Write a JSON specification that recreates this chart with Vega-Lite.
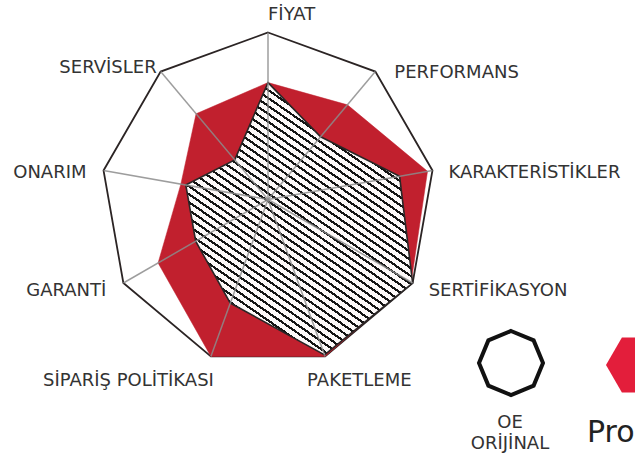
{
  "$schema": "https://vega.github.io/schema/vega-lite/v6.json",
  "width": 635,
  "height": 458,
  "padding": 0,
  "autosize": {"type": "none"},
  "background": "white",
  "config": {"view": {"stroke": null}},
  "datasets": {
    "radar": [
      {"axis": "FİYAT", "i": 0, "oe": 0.70, "pro": 0.70},
      {"axis": "PERFORMANS", "i": 1, "oe": 0.49, "pro": 0.74},
      {"axis": "KARAKTERİSTİKLER", "i": 2, "oe": 0.80, "pro": 0.97},
      {"axis": "SERTİFİKASYON", "i": 3, "oe": 1.0, "pro": 0.99},
      {"axis": "PAKETLEME", "i": 4, "oe": 0.99, "pro": 1.0},
      {"axis": "SİPARİŞ POLİTİKASI", "i": 5, "oe": 0.66, "pro": 1.0},
      {"axis": "GARANTİ", "i": 6, "oe": 0.50, "pro": 0.76},
      {"axis": "ONARIM", "i": 7, "oe": 0.50, "pro": 0.53},
      {"axis": "SERVİSLER", "i": 8, "oe": 0.31, "pro": 0.67}
    ],
    "legend": [
      {"series": "OE ORİJİNAL", "label": "OE\nORİJİNAL"},
      {"series": "Pro", "label": "Pro"}
    ]
  },
  "layer": [
    {
      "data": {"name": "radar"},
      "transform": [
        {"calculate": "datum.i * 2 * PI / 9", "as": "a"},
        {"calculate": "sin(datum.a)", "as": "px"},
        {"calculate": "cos(datum.a)", "as": "py"}
      ],
      "mark": {"type": "line", "interpolate": "linear-closed", "stroke": "#2b2424", "strokeWidth": 1.8},
      "encoding": {
        "x": {"field": "px", "type": "quantitative", "scale": {"domain": [-1.6048, 2.1976], "nice": false, "zero": false}, "axis": null},
        "y": {"field": "py", "type": "quantitative", "scale": {"domain": [-1.5479, 1.1946], "nice": false, "zero": false}, "axis": null},
        "order": {"field": "i", "type": "quantitative"}
      }
    },
    {
      "data": {"name": "radar"},
      "transform": [
        {"calculate": "datum.i * 2 * PI / 9", "as": "a"},
        {"calculate": "datum.pro * sin(datum.a)", "as": "px"},
        {"calculate": "datum.pro * cos(datum.a)", "as": "py"}
      ],
      "mark": {"type": "line", "interpolate": "linear-closed", "stroke": "#c1202e", "strokeWidth": 0.5, "fill": "#c1202e"},
      "encoding": {
        "x": {"field": "px", "type": "quantitative", "scale": {"domain": [-1.6048, 2.1976], "nice": false, "zero": false}, "axis": null},
        "y": {"field": "py", "type": "quantitative", "scale": {"domain": [-1.5479, 1.1946], "nice": false, "zero": false}, "axis": null},
        "order": {"field": "i", "type": "quantitative"}
      }
    },
    {
      "data": {"name": "radar"},
      "transform": [
        {"calculate": "datum.i * 2 * PI / 9", "as": "a"},
        {"calculate": "datum.oe * sin(datum.a)", "as": "px"},
        {"calculate": "datum.oe * cos(datum.a)", "as": "py"}
      ],
      "mark": {
        "type": "line",
        "interpolate": "linear-closed",
        "stroke": "#2a2626",
        "strokeWidth": 1.6,
        "fill": {
          "gradient": "linear",
          "x1": 0, "y1": 1, "x2": 0.6816, "y2": -0.1835,
          "stops": [
            {"offset": 0, "color": "#fdf9f9"},
            {"offset": 0.0060, "color": "#fdf9f9"}, {"offset": 0.0060, "color": "#141414"}, {"offset": 0.0122, "color": "#141414"}, {"offset": 0.0122, "color": "#fdf9f9"},
            {"offset": 0.0245, "color": "#fdf9f9"}, {"offset": 0.0245, "color": "#141414"}, {"offset": 0.0307, "color": "#141414"}, {"offset": 0.0307, "color": "#fdf9f9"},
            {"offset": 0.0430, "color": "#fdf9f9"}, {"offset": 0.0430, "color": "#141414"}, {"offset": 0.0492, "color": "#141414"}, {"offset": 0.0492, "color": "#fdf9f9"},
            {"offset": 0.0616, "color": "#fdf9f9"}, {"offset": 0.0616, "color": "#141414"}, {"offset": 0.0678, "color": "#141414"}, {"offset": 0.0678, "color": "#fdf9f9"},
            {"offset": 0.0801, "color": "#fdf9f9"}, {"offset": 0.0801, "color": "#141414"}, {"offset": 0.0863, "color": "#141414"}, {"offset": 0.0863, "color": "#fdf9f9"},
            {"offset": 0.0986, "color": "#fdf9f9"}, {"offset": 0.0986, "color": "#141414"}, {"offset": 0.1048, "color": "#141414"}, {"offset": 0.1048, "color": "#fdf9f9"},
            {"offset": 0.1171, "color": "#fdf9f9"}, {"offset": 0.1171, "color": "#141414"}, {"offset": 0.1233, "color": "#141414"}, {"offset": 0.1233, "color": "#fdf9f9"},
            {"offset": 0.1356, "color": "#fdf9f9"}, {"offset": 0.1356, "color": "#141414"}, {"offset": 0.1418, "color": "#141414"}, {"offset": 0.1418, "color": "#fdf9f9"},
            {"offset": 0.1541, "color": "#fdf9f9"}, {"offset": 0.1541, "color": "#141414"}, {"offset": 0.1603, "color": "#141414"}, {"offset": 0.1603, "color": "#fdf9f9"},
            {"offset": 0.1727, "color": "#fdf9f9"}, {"offset": 0.1727, "color": "#141414"}, {"offset": 0.1789, "color": "#141414"}, {"offset": 0.1789, "color": "#fdf9f9"},
            {"offset": 0.1912, "color": "#fdf9f9"}, {"offset": 0.1912, "color": "#141414"}, {"offset": 0.1974, "color": "#141414"}, {"offset": 0.1974, "color": "#fdf9f9"},
            {"offset": 0.2097, "color": "#fdf9f9"}, {"offset": 0.2097, "color": "#141414"}, {"offset": 0.2159, "color": "#141414"}, {"offset": 0.2159, "color": "#fdf9f9"},
            {"offset": 0.2282, "color": "#fdf9f9"}, {"offset": 0.2282, "color": "#141414"}, {"offset": 0.2344, "color": "#141414"}, {"offset": 0.2344, "color": "#fdf9f9"},
            {"offset": 0.2467, "color": "#fdf9f9"}, {"offset": 0.2467, "color": "#141414"}, {"offset": 0.2529, "color": "#141414"}, {"offset": 0.2529, "color": "#fdf9f9"},
            {"offset": 0.2653, "color": "#fdf9f9"}, {"offset": 0.2653, "color": "#141414"}, {"offset": 0.2715, "color": "#141414"}, {"offset": 0.2715, "color": "#fdf9f9"},
            {"offset": 0.2838, "color": "#fdf9f9"}, {"offset": 0.2838, "color": "#141414"}, {"offset": 0.2900, "color": "#141414"}, {"offset": 0.2900, "color": "#fdf9f9"},
            {"offset": 0.3023, "color": "#fdf9f9"}, {"offset": 0.3023, "color": "#141414"}, {"offset": 0.3085, "color": "#141414"}, {"offset": 0.3085, "color": "#fdf9f9"},
            {"offset": 0.3208, "color": "#fdf9f9"}, {"offset": 0.3208, "color": "#141414"}, {"offset": 0.3270, "color": "#141414"}, {"offset": 0.3270, "color": "#fdf9f9"},
            {"offset": 0.3393, "color": "#fdf9f9"}, {"offset": 0.3393, "color": "#141414"}, {"offset": 0.3455, "color": "#141414"}, {"offset": 0.3455, "color": "#fdf9f9"},
            {"offset": 0.3579, "color": "#fdf9f9"}, {"offset": 0.3579, "color": "#141414"}, {"offset": 0.3641, "color": "#141414"}, {"offset": 0.3641, "color": "#fdf9f9"},
            {"offset": 0.3764, "color": "#fdf9f9"}, {"offset": 0.3764, "color": "#141414"}, {"offset": 0.3826, "color": "#141414"}, {"offset": 0.3826, "color": "#fdf9f9"},
            {"offset": 0.3949, "color": "#fdf9f9"}, {"offset": 0.3949, "color": "#141414"}, {"offset": 0.4011, "color": "#141414"}, {"offset": 0.4011, "color": "#fdf9f9"},
            {"offset": 0.4134, "color": "#fdf9f9"}, {"offset": 0.4134, "color": "#141414"}, {"offset": 0.4196, "color": "#141414"}, {"offset": 0.4196, "color": "#fdf9f9"},
            {"offset": 0.4319, "color": "#fdf9f9"}, {"offset": 0.4319, "color": "#141414"}, {"offset": 0.4381, "color": "#141414"}, {"offset": 0.4381, "color": "#fdf9f9"},
            {"offset": 0.4504, "color": "#fdf9f9"}, {"offset": 0.4504, "color": "#141414"}, {"offset": 0.4566, "color": "#141414"}, {"offset": 0.4566, "color": "#fdf9f9"},
            {"offset": 0.4690, "color": "#fdf9f9"}, {"offset": 0.4690, "color": "#141414"}, {"offset": 0.4752, "color": "#141414"}, {"offset": 0.4752, "color": "#fdf9f9"},
            {"offset": 0.4875, "color": "#fdf9f9"}, {"offset": 0.4875, "color": "#141414"}, {"offset": 0.4937, "color": "#141414"}, {"offset": 0.4937, "color": "#fdf9f9"},
            {"offset": 0.5060, "color": "#fdf9f9"}, {"offset": 0.5060, "color": "#141414"}, {"offset": 0.5122, "color": "#141414"}, {"offset": 0.5122, "color": "#fdf9f9"},
            {"offset": 0.5245, "color": "#fdf9f9"}, {"offset": 0.5245, "color": "#141414"}, {"offset": 0.5307, "color": "#141414"}, {"offset": 0.5307, "color": "#fdf9f9"},
            {"offset": 0.5430, "color": "#fdf9f9"}, {"offset": 0.5430, "color": "#141414"}, {"offset": 0.5492, "color": "#141414"}, {"offset": 0.5492, "color": "#fdf9f9"},
            {"offset": 0.5616, "color": "#fdf9f9"}, {"offset": 0.5616, "color": "#141414"}, {"offset": 0.5678, "color": "#141414"}, {"offset": 0.5678, "color": "#fdf9f9"},
            {"offset": 0.5801, "color": "#fdf9f9"}, {"offset": 0.5801, "color": "#141414"}, {"offset": 0.5863, "color": "#141414"}, {"offset": 0.5863, "color": "#fdf9f9"},
            {"offset": 0.5986, "color": "#fdf9f9"}, {"offset": 0.5986, "color": "#141414"}, {"offset": 0.6048, "color": "#141414"}, {"offset": 0.6048, "color": "#fdf9f9"},
            {"offset": 0.6171, "color": "#fdf9f9"}, {"offset": 0.6171, "color": "#141414"}, {"offset": 0.6233, "color": "#141414"}, {"offset": 0.6233, "color": "#fdf9f9"},
            {"offset": 0.6356, "color": "#fdf9f9"}, {"offset": 0.6356, "color": "#141414"}, {"offset": 0.6418, "color": "#141414"}, {"offset": 0.6418, "color": "#fdf9f9"},
            {"offset": 0.6541, "color": "#fdf9f9"}, {"offset": 0.6541, "color": "#141414"}, {"offset": 0.6603, "color": "#141414"}, {"offset": 0.6603, "color": "#fdf9f9"},
            {"offset": 0.6727, "color": "#fdf9f9"}, {"offset": 0.6727, "color": "#141414"}, {"offset": 0.6789, "color": "#141414"}, {"offset": 0.6789, "color": "#fdf9f9"},
            {"offset": 0.6912, "color": "#fdf9f9"}, {"offset": 0.6912, "color": "#141414"}, {"offset": 0.6974, "color": "#141414"}, {"offset": 0.6974, "color": "#fdf9f9"},
            {"offset": 0.7097, "color": "#fdf9f9"}, {"offset": 0.7097, "color": "#141414"}, {"offset": 0.7159, "color": "#141414"}, {"offset": 0.7159, "color": "#fdf9f9"},
            {"offset": 0.7282, "color": "#fdf9f9"}, {"offset": 0.7282, "color": "#141414"}, {"offset": 0.7344, "color": "#141414"}, {"offset": 0.7344, "color": "#fdf9f9"},
            {"offset": 0.7467, "color": "#fdf9f9"}, {"offset": 0.7467, "color": "#141414"}, {"offset": 0.7529, "color": "#141414"}, {"offset": 0.7529, "color": "#fdf9f9"},
            {"offset": 0.7653, "color": "#fdf9f9"}, {"offset": 0.7653, "color": "#141414"}, {"offset": 0.7715, "color": "#141414"}, {"offset": 0.7715, "color": "#fdf9f9"},
            {"offset": 0.7838, "color": "#fdf9f9"}, {"offset": 0.7838, "color": "#141414"}, {"offset": 0.7900, "color": "#141414"}, {"offset": 0.7900, "color": "#fdf9f9"},
            {"offset": 0.8023, "color": "#fdf9f9"}, {"offset": 0.8023, "color": "#141414"}, {"offset": 0.8085, "color": "#141414"}, {"offset": 0.8085, "color": "#fdf9f9"},
            {"offset": 0.8208, "color": "#fdf9f9"}, {"offset": 0.8208, "color": "#141414"}, {"offset": 0.8270, "color": "#141414"}, {"offset": 0.8270, "color": "#fdf9f9"},
            {"offset": 0.8393, "color": "#fdf9f9"}, {"offset": 0.8393, "color": "#141414"}, {"offset": 0.8455, "color": "#141414"}, {"offset": 0.8455, "color": "#fdf9f9"},
            {"offset": 0.8579, "color": "#fdf9f9"}, {"offset": 0.8579, "color": "#141414"}, {"offset": 0.8641, "color": "#141414"}, {"offset": 0.8641, "color": "#fdf9f9"},
            {"offset": 0.8764, "color": "#fdf9f9"}, {"offset": 0.8764, "color": "#141414"}, {"offset": 0.8826, "color": "#141414"}, {"offset": 0.8826, "color": "#fdf9f9"},
            {"offset": 0.8949, "color": "#fdf9f9"}, {"offset": 0.8949, "color": "#141414"}, {"offset": 0.9011, "color": "#141414"}, {"offset": 0.9011, "color": "#fdf9f9"},
            {"offset": 0.9134, "color": "#fdf9f9"}, {"offset": 0.9134, "color": "#141414"}, {"offset": 0.9196, "color": "#141414"}, {"offset": 0.9196, "color": "#fdf9f9"},
            {"offset": 0.9319, "color": "#fdf9f9"}, {"offset": 0.9319, "color": "#141414"}, {"offset": 0.9381, "color": "#141414"}, {"offset": 0.9381, "color": "#fdf9f9"},
            {"offset": 0.9504, "color": "#fdf9f9"}, {"offset": 0.9504, "color": "#141414"}, {"offset": 0.9566, "color": "#141414"}, {"offset": 0.9566, "color": "#fdf9f9"},
            {"offset": 0.9690, "color": "#fdf9f9"}, {"offset": 0.9690, "color": "#141414"}, {"offset": 0.9752, "color": "#141414"}, {"offset": 0.9752, "color": "#fdf9f9"},
            {"offset": 0.9875, "color": "#fdf9f9"}, {"offset": 0.9875, "color": "#141414"}, {"offset": 0.9937, "color": "#141414"}, {"offset": 0.9937, "color": "#fdf9f9"},
            {"offset": 1, "color": "#fdf9f9"}
          ]
        }
      },
      "encoding": {
        "x": {"field": "px", "type": "quantitative", "scale": {"domain": [-1.6048, 2.1976], "nice": false, "zero": false}, "axis": null},
        "y": {"field": "py", "type": "quantitative", "scale": {"domain": [-1.5479, 1.1946], "nice": false, "zero": false}, "axis": null},
        "order": {"field": "i", "type": "quantitative"}
      }
    },
    {
      "data": {"name": "radar"},
      "transform": [
        {"calculate": "datum.i * 2 * PI / 9", "as": "a"},
        {"calculate": "sin(datum.a)", "as": "px"},
        {"calculate": "cos(datum.a)", "as": "py"},
        {"calculate": "0", "as": "ox"},
        {"calculate": "0", "as": "oy"}
      ],
      "mark": {"type": "rule", "stroke": "#8c8c8c", "strokeWidth": 1.5, "opacity": 0.85},
      "encoding": {
        "x": {"field": "px", "type": "quantitative", "scale": {"domain": [-1.6048, 2.1976], "nice": false, "zero": false}, "axis": null},
        "y": {"field": "py", "type": "quantitative", "scale": {"domain": [-1.5479, 1.1946], "nice": false, "zero": false}, "axis": null},
        "x2": {"field": "ox"},
        "y2": {"field": "oy"}
      }
    },
    {
      "data": {"name": "radar"},
      "transform": [
        {"calculate": "datum.i * 2 * PI / 9", "as": "a"},
        {"calculate": "sin(datum.a)", "as": "s"},
        {"calculate": "cos(datum.a)", "as": "c"},
        {"calculate": "datum.c > 0.9 ? 0 : datum.c < -0.9 ? (datum.s > 0 ? -18 : 3) : datum.c > 0.5 ? (datum.s > 0 ? 19 : -4) : (datum.s > 0 ? 16 : -17)", "as": "dxp"},
        {"calculate": "datum.c > 0.9 ? -19 : datum.c > 0.5 ? (datum.s > 0 ? -1 : -6) : datum.c >= 0 ? 1 : 26 * datum.c * datum.c", "as": "dyp"},
        {"calculate": "datum.s + datum.dxp / 167", "as": "px"},
        {"calculate": "datum.c - datum.dyp / 167", "as": "py"},
        {"filter": "datum.s > -0.001"}
      ],
      "mark": {"type": "text", "align": "left", "baseline": "middle", "font": "DejaVu Sans", "fontSize": 18, "fill": "#333333", "dy": 2},
      "encoding": {
        "x": {"field": "px", "type": "quantitative", "scale": {"domain": [-1.6048, 2.1976], "nice": false, "zero": false}, "axis": null},
        "y": {"field": "py", "type": "quantitative", "scale": {"domain": [-1.5479, 1.1946], "nice": false, "zero": false}, "axis": null},
        "text": {"field": "axis"}
      }
    },
    {
      "data": {"name": "radar"},
      "transform": [
        {"calculate": "datum.i * 2 * PI / 9", "as": "a"},
        {"calculate": "sin(datum.a)", "as": "s"},
        {"calculate": "cos(datum.a)", "as": "c"},
        {"calculate": "datum.c > 0.9 ? 0 : datum.c < -0.9 ? (datum.s > 0 ? -18 : 3) : datum.c > 0.5 ? (datum.s > 0 ? 19 : -4) : (datum.s > 0 ? 16 : -17)", "as": "dxp"},
        {"calculate": "datum.c > 0.9 ? -19 : datum.c > 0.5 ? (datum.s > 0 ? -1 : -6) : datum.c >= 0 ? 1 : 26 * datum.c * datum.c", "as": "dyp"},
        {"calculate": "datum.s + datum.dxp / 167", "as": "px"},
        {"calculate": "datum.c - datum.dyp / 167", "as": "py"},
        {"filter": "datum.s <= -0.001"}
      ],
      "mark": {"type": "text", "align": "right", "baseline": "middle", "font": "DejaVu Sans", "fontSize": 18, "fill": "#333333", "dy": 2},
      "encoding": {
        "x": {"field": "px", "type": "quantitative", "scale": {"domain": [-1.6048, 2.1976], "nice": false, "zero": false}, "axis": null},
        "y": {"field": "py", "type": "quantitative", "scale": {"domain": [-1.5479, 1.1946], "nice": false, "zero": false}, "axis": null},
        "text": {"field": "axis"}
      }
    },
    {
      "data": {"name": "legend"},
      "transform": [{"filter": "datum.series == 'OE ORİJİNAL'"}],
      "mark": {"type": "point", "shape": "M0,-1L0.707,-0.707L1,0L0.707,0.707L0,1L-0.707,0.707L-1,0L-0.707,-0.707Z", "filled": false, "stroke": "#111111", "strokeWidth": 4, "size": 4096, "opacity": 1},
      "encoding": {
        "x": {"datum": 1.4551, "type": "quantitative", "scale": {"domain": [-1.6048, 2.1976], "nice": false, "zero": false}, "axis": null},
        "y": {"datum": -0.979, "type": "quantitative", "scale": {"domain": [-1.5479, 1.1946], "nice": false, "zero": false}, "axis": null}
      }
    },
    {
      "data": {"name": "legend"},
      "transform": [{"filter": "datum.series == 'OE ORİJİNAL'"}],
      "mark": {"type": "text", "align": "center", "baseline": "alphabetic", "lineBreak": "\n", "lineHeight": 21, "font": "DejaVu Sans", "fontSize": 18, "fill": "#333333"},
      "encoding": {
        "x": {"datum": 1.4491, "type": "quantitative", "scale": {"domain": [-1.6048, 2.1976], "nice": false, "zero": false}, "axis": null},
        "y": {"datum": -1.3683, "type": "quantitative", "scale": {"domain": [-1.5479, 1.1946], "nice": false, "zero": false}, "axis": null},
        "text": {"field": "label"}
      }
    },
    {
      "data": {"name": "legend"},
      "transform": [{"filter": "datum.series == 'Pro'"}],
      "mark": {"type": "point", "shape": "M-1,0L-0.5,-0.866L0.5,-0.866L1,0L0.5,0.866L-0.5,0.866Z", "filled": true, "fill": "#e31e3b", "size": 4045, "opacity": 1},
      "encoding": {
        "x": {"datum": 2.2144, "type": "quantitative", "scale": {"domain": [-1.6048, 2.1976], "nice": false, "zero": false}, "axis": null},
        "y": {"datum": -0.991, "type": "quantitative", "scale": {"domain": [-1.5479, 1.1946], "nice": false, "zero": false}, "axis": null}
      }
    },
    {
      "data": {"name": "legend"},
      "transform": [{"filter": "datum.series == 'Pro'"}],
      "mark": {"type": "text", "align": "left", "baseline": "alphabetic", "font": "DejaVu Sans", "fontSize": 30, "fill": "#222222"},
      "encoding": {
        "x": {"datum": 1.9102, "type": "quantitative", "scale": {"domain": [-1.6048, 2.1976], "nice": false, "zero": false}, "axis": null},
        "y": {"datum": -1.4521, "type": "quantitative", "scale": {"domain": [-1.5479, 1.1946], "nice": false, "zero": false}, "axis": null},
        "text": {"field": "label"}
      }
    }
  ]
}
